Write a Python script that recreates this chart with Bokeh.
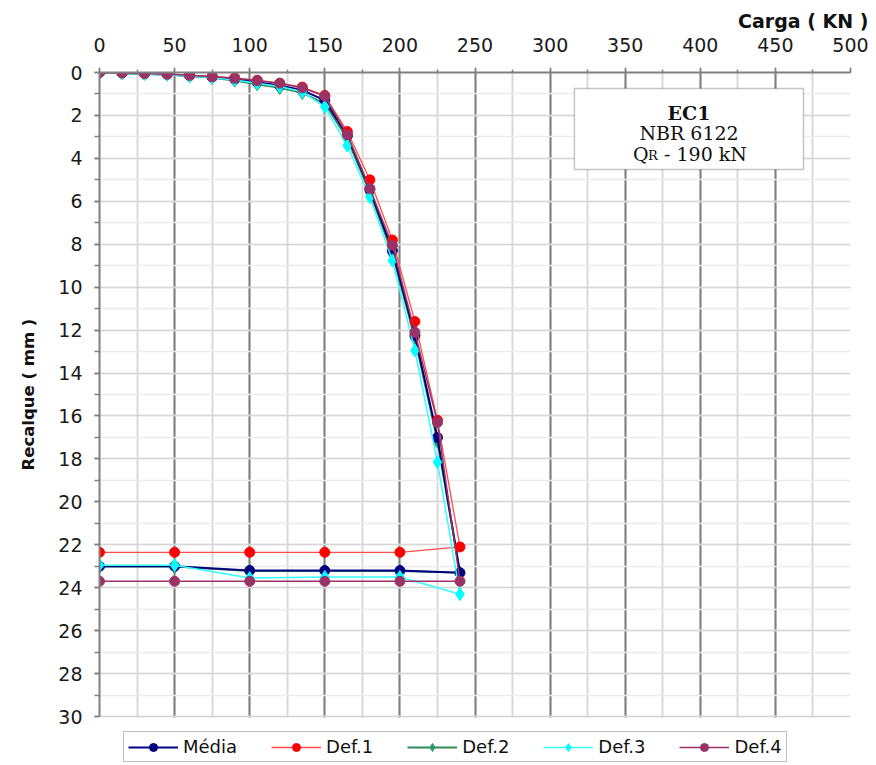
from bokeh.plotting import figure
from bokeh.models import Range1d, SingleIntervalTicker, Label, BoxAnnotation, Legend, LegendItem, Title
from bokeh.embed import file_html
from bokeh.resources import INLINE

# ---- data ----
carga = [0, 15, 30, 45, 60, 75, 90, 105, 120, 135, 150, 165, 180, 195, 210, 225, 240,
         200, 150, 100, 50, 0]
media = [0, 0.02, 0.06, 0.09, 0.15, 0.22, 0.31, 0.45, 0.60, 0.82, 1.30, 2.95, 5.45, 8.30, 12.25, 17.00, 23.30,
         23.20, 23.20, 23.20, 23.00, 23.00]
def1 = [0, 0.02, 0.05, 0.07, 0.12, 0.18, 0.25, 0.36, 0.50, 0.68, 1.07, 2.75, 5.00, 7.80, 11.60, 16.20, 22.10,
        22.35, 22.35, 22.35, 22.35, 22.35]
def2 = [0, 0.03, 0.07, 0.10, 0.17, 0.25, 0.38, 0.55, 0.72, 0.95, 1.45, 3.10, 5.60, 8.45, 12.40, 17.20, 23.30,
        23.22, 23.22, 23.22, 23.02, 23.02]
def3 = [0, 0.03, 0.08, 0.10, 0.18, 0.25, 0.35, 0.50, 0.65, 0.90, 1.60, 3.40, 5.80, 8.75, 12.95, 18.15, 24.30,
        23.50, 23.50, 23.55, 22.95, 22.95]
def4 = [0, 0.02, 0.05, 0.08, 0.13, 0.20, 0.27, 0.38, 0.50, 0.72, 1.10, 2.90, 5.40, 8.05, 12.10, 16.30, 23.70,
        23.70, 23.70, 23.70, 23.70, 23.70]

series_names = ["Média", "Def.1", "Def.2", "Def.3", "Def.4"]
x_title = "Carga ( KN )"
y_title = "Recalque ( mm )"
box_lines = ["EC1", "NBR 6122"]
x_limits = (0, 500)
y_limits = (0, 30)

SANS = "DejaVu Sans"
SERIF = "DejaVu Serif"

# the frame runs on below the 30 mm line to host the legend; that strip is blanked
y_frame_end = 32.28

p = figure(width=876, height=765, x_range=Range1d(*x_limits), y_range=Range1d(y_frame_end, 0),
           x_axis_location="above", output_backend="svg", toolbar_location=None,
           min_border_left=99, min_border_right=26, min_border_top=72, min_border_bottom=0,
           title=x_title, title_location="above")
p.outline_line_color = None
p.background_fill_color = "white"
p.border_fill_color = "white"

p.title.align = "right"
p.title.offset = -18
p.title.text_font = SANS
p.title.text_font_size = "19px"
p.title.text_font_style = "bold"
p.title.text_color = "#111111"
p.title.standoff = 5

xt = SingleIntervalTicker(interval=50, num_minor_ticks=2)
yt = SingleIntervalTicker(interval=2, num_minor_ticks=2)
p.xaxis.ticker = xt
p.yaxis.ticker = yt
p.xgrid.ticker = xt
p.ygrid.ticker = yt
p.yaxis.bounds = y_limits
p.ygrid.bounds = y_limits

p.xgrid.grid_line_color = "#808080"
p.xgrid.grid_line_width = 2
p.xgrid.minor_grid_line_color = "#d9d9d9"
p.xgrid.minor_grid_line_width = 2
p.ygrid.grid_line_color = "#d6d6d6"
p.ygrid.grid_line_width = 1.5
p.ygrid.minor_grid_line_color = "#ececec"
p.ygrid.minor_grid_line_width = 1.5

for ax in (p.xaxis[0], p.yaxis[0]):
    ax.axis_line_color = "#808080"
    ax.axis_line_width = 2
    ax.major_tick_line_color = "#808080"
    ax.minor_tick_line_color = "#808080"
    ax.major_tick_line_width = 1.5
    ax.minor_tick_line_width = 1.5
    ax.major_tick_in = 0
    ax.minor_tick_in = 0
    ax.major_tick_out = 5
    ax.major_label_text_font = SANS
    ax.major_label_text_font_size = "19px"
    ax.major_label_text_color = "#1a1a1a"

p.xaxis.minor_tick_out = 3
p.yaxis.minor_tick_out = 5
p.xaxis.major_label_standoff = 16
p.yaxis.major_label_standoff = 12

# vertical axis title as a left-side Title so it can be centred on the 0-30 mm span
ytitle = Title(text=y_title, align="left", offset=295, vertical_align="top", standoff=32,
               text_font=SANS, text_font_size="16.5px", text_font_style="bold", text_color="#111111")
p.add_layout(ytitle, "left")

# series: (values, line color, line width, marker, marker color, marker size)
styles = {
    "Média": (media, "#000080", 2.0, "circle", "#000080", 10),
    "Def.1": (def1, "#ff4d4d", 1.3, "circle", "#ff0000", 10),
    "Def.2": (def2, "#2e8b57", 1.8, "diamond", "#339966", 13),
    "Def.3": (def3, "#33ffff", 1.5, "diamond", "#00ffff", 13),
    "Def.4": (def4, "#993366", 1.5, "circle", "#993366", 10),
}
draw_order = ["Def.2", "Média", "Def.1", "Def.3", "Def.4"]
rends = {}
for name in draw_order:
    vals, lc, lw, mk, mc, ms = styles[name]
    r_line = p.line(carga, vals, line_color=lc, line_width=lw)
    r_pts = p.scatter(carga, vals, marker=mk, size=ms, fill_color=mc, line_color=mc)
    rends[name] = [r_line, r_pts]

# blank strip below the 30 mm line
p.add_layout(BoxAnnotation(top=y_limits[1] + 0.05, bottom=y_frame_end + 5, fill_color="white",
                           fill_alpha=1.0, line_color=None))

# text box
box = BoxAnnotation(left=316.2, right=468.7, top=0.745, bottom=4.52,
                    fill_color="white", fill_alpha=1.0, line_color="#404040", line_width=1.5)
p.add_layout(box)
cx = 392.5
p.add_layout(Label(x=cx, y=1.877, text=box_lines[0], text_align="center", text_baseline="alphabetic",
                   text_font=SERIF, text_font_size="19px", text_font_style="bold", text_color="#111111"))
p.add_layout(Label(x=cx, y=2.808, text=box_lines[1], text_align="center", text_baseline="alphabetic",
                   text_font=SERIF, text_font_size="19px", text_color="#111111"))
p.add_layout(Label(x=cx, y=3.787, x_offset=-56, text="Q", text_align="left", text_baseline="alphabetic",
                   text_font=SERIF, text_font_size="19px", text_color="#111111"))
p.add_layout(Label(x=cx, y=3.787, x_offset=-41, y_offset=-2, text="R", text_align="left",
                   text_baseline="alphabetic", text_font=SERIF, text_font_size="13px", text_color="#111111"))
p.add_layout(Label(x=cx, y=3.787, x_offset=-25, text="- 190 kN", text_align="left", text_baseline="alphabetic",
                   text_font=SERIF, text_font_size="19px", text_color="#111111"))

legend = Legend(items=[LegendItem(label=n, renderers=rends[n]) for n in series_names],
                orientation="horizontal", location=(24, 3))
legend.label_text_font = SANS
legend.label_text_font_size = "18px"
legend.label_text_color = "#111111"
legend.glyph_width = 50
legend.glyph_height = 20
legend.label_standoff = 5
legend.spacing = 34
legend.padding = 4
legend.margin = 0
legend.border_line_color = "#808080"
legend.border_line_width = 1.5
legend.background_fill_color = "white"
legend.background_fill_alpha = 1
p.add_layout(legend)

open("out.html", "w").write(file_html(p, INLINE))
